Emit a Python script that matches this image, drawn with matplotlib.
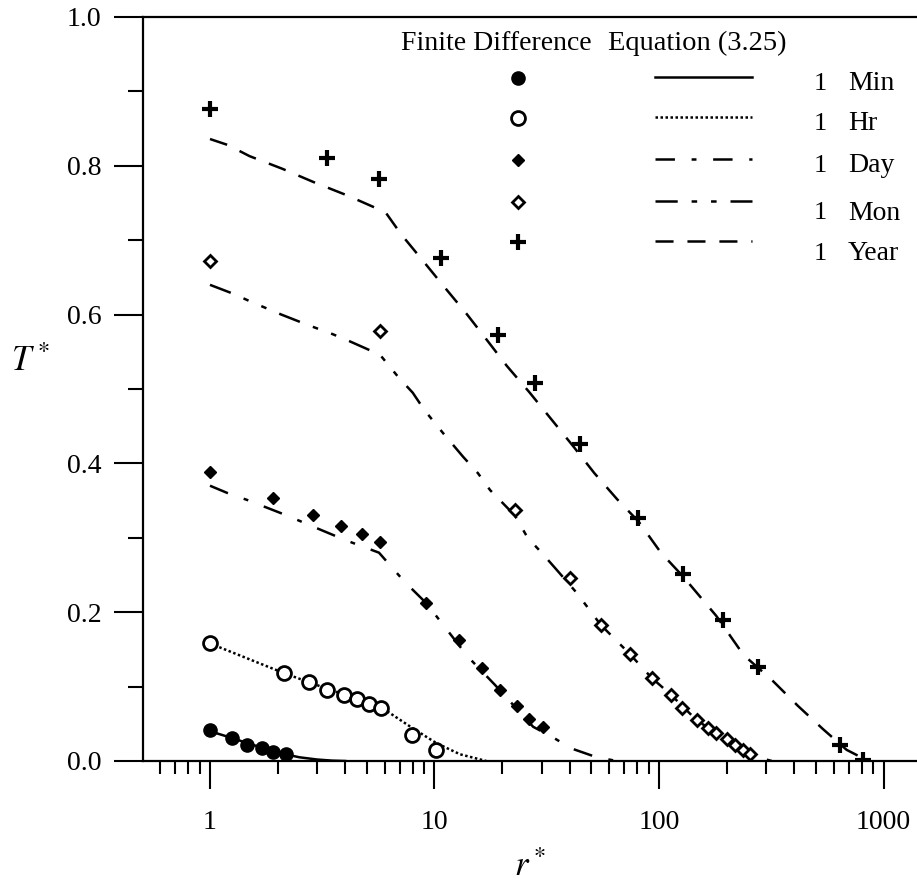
import matplotlib
matplotlib.use('Agg')
import matplotlib.pyplot as plt
from matplotlib.ticker import FixedLocator, NullFormatter

plt.rcParams['font.family'] = ['Liberation Serif', 'DejaVu Serif']
plt.rcParams['mathtext.fontset'] = 'stix'
plt.rcParams['lines.scale_dashes'] = False

# finite difference results (markers)
min_r = [1.0, 1.25, 1.46, 1.70, 1.91, 2.17]
min_T = [0.041, 0.031, 0.022, 0.017, 0.012, 0.010]

hr_r = [1.0, 2.14, 2.76, 3.33, 3.95, 4.53, 5.12, 5.78, 7.96, 10.2]
hr_T = [0.159, 0.118, 0.106, 0.095, 0.089, 0.083, 0.077, 0.071, 0.035, 0.015]

day_r = [1.0, 1.9, 2.87, 3.82, 4.74, 5.72, 9.2, 12.9, 16.2, 19.6, 23.2, 26.4, 30.5]
day_T = [0.389, 0.353, 0.331, 0.316, 0.305, 0.294, 0.213, 0.163, 0.125, 0.095,
         0.074, 0.057, 0.046]

mon_r = [1.0, 5.72, 22.8, 40, 55, 74, 92.6, 113, 127, 147, 165, 180, 200, 218, 237, 254]
mon_T = [0.672, 0.578, 0.337, 0.246, 0.183, 0.144, 0.112, 0.089, 0.071, 0.055,
         0.044, 0.037, 0.029, 0.022, 0.015, 0.009]

year_r = [1.0, 3.31, 5.68, 10.65, 19.2, 28, 44.4, 81, 128, 193, 277, 640, 812]
year_T = [0.876, 0.810, 0.782, 0.676, 0.573, 0.508, 0.426, 0.326, 0.252, 0.190,
          0.127, 0.022, 0.002]

# Equation (3.25) curves
min_eq_r = [1.0, 1.25, 1.5, 1.75, 2.0, 2.25, 2.5, 3.0, 3.5, 4.0]
min_eq_T = [0.040, 0.031, 0.023, 0.017, 0.012, 0.008, 0.005, 0.002, 0.0005, 0.0]

hr_eq_r = [1.0, 2.14, 3.33, 4.5, 5.8, 8.0, 10.2, 13.0, 17.0]
hr_eq_T = [0.158, 0.118, 0.097, 0.084, 0.072, 0.044, 0.024, 0.009, 0.0]

day_eq_r = [1.0, 1.2, 1.46, 2.2, 2.88, 4.0, 5.66, 7.3, 9.2, 14.1, 18.5, 27.5,
            33.6, 40.6, 52.8, 65]
day_eq_T = [0.370, 0.360, 0.351, 0.330, 0.315, 0.297, 0.280, 0.242, 0.212, 0.140,
            0.103, 0.046, 0.032, 0.017, 0.005, 0.0]

mon_eq_r = [1.0, 1.27, 1.53, 2.08, 2.73, 3.5, 4.2, 5.72, 6.9, 8.0, 9.0, 10.9, 13.4,
            15.6, 17.7, 22.8, 26, 30, 35, 43, 55, 74, 92.6, 113, 147, 200, 254, 318]
mon_eq_T = [0.640, 0.628, 0.617, 0.600, 0.586, 0.574, 0.564, 0.546, 0.516, 0.495,
            0.472, 0.441, 0.409, 0.387, 0.364, 0.330, 0.300, 0.280, 0.257, 0.226,
            0.183, 0.144, 0.112, 0.089, 0.055, 0.028, 0.008, 0.0]

year_eq_r = [1.0, 1.2, 1.5, 2.1, 2.9, 4.1, 5.6, 6.1, 7.1, 8.9, 11, 13.9, 17, 21,
             26.4, 33, 41.5, 51.5, 65, 81, 102, 128, 180, 238, 318, 416, 537, 685, 856]
year_eq_T = [0.836, 0.828, 0.813, 0.796, 0.778, 0.760, 0.742, 0.736, 0.708, 0.672,
             0.638, 0.601, 0.567, 0.531, 0.496, 0.460, 0.423, 0.387, 0.352, 0.322,
             0.280, 0.248, 0.195, 0.1425, 0.109, 0.074, 0.043, 0.015, 0.0]

labels = ['Min', 'Hr', 'Day', 'Mon', 'Year']
x_ticks = [1, 10, 100, 1000]
x_tick_labels = ['1', '10', '100', '1000']
y_ticks = [0.0, 0.2, 0.4, 0.6, 0.8, 1.0]

LW = 1.8
line_styles = [
    dict(linestyle='-'),
    dict(dashes=(1.8, 1.8)),
    dict(dashes=(14, 12, 3.5, 12)),
    dict(dashes=(16, 10, 4, 10, 4, 10)),
    dict(dashes=(13, 10)),
]
marker_styles = [
    dict(marker='o', ms=9.5, mfc='black', mec='black', mew=1),
    dict(marker='o', ms=10, mfc='white', mec='black', mew=2),
    dict(marker='D', ms=6.5, mfc='black', mec='black', mew=1),
    dict(marker='D', ms=6, mfc='white', mec='black', mew=2),
    dict(marker='+', ms=11, mec='black', mew=3),
]

fig = plt.figure(figsize=(9.17, 8.83), dpi=100)
W, H = 917, 883
left, right, top, bottom = 143, 917, 17, 761
ax = fig.add_axes([left / W, (H - bottom) / H, (right - left) / W, (bottom - top) / H])

curves = [(min_eq_r, min_eq_T), (hr_eq_r, hr_eq_T), (day_eq_r, day_eq_T),
          (mon_eq_r, mon_eq_T), (year_eq_r, year_eq_T)]
points = [(min_r, min_T), (hr_r, hr_T), (day_r, day_T), (mon_r, mon_T), (year_r, year_T)]

for (cr, ct), ls in zip(curves, line_styles):
    ax.plot(cr, ct, color='black', lw=LW, **ls)
for (pr, pt), ms in zip(points, marker_styles):
    ax.plot(pr, pt, linestyle='none', zorder=3, **ms)

ax.set_xscale('log')
ax.set_xlim(0.503, 1410)
ax.set_ylim(0, 1.0)

ax.xaxis.set_major_locator(FixedLocator(x_ticks))
ax.set_xticklabels(x_tick_labels)
minor_x = [m * d for d in (0.1, 1, 10, 100) for m in range(2, 10) if 0.55 < m * d < 1400]
ax.xaxis.set_minor_locator(FixedLocator(minor_x))
ax.xaxis.set_minor_formatter(NullFormatter())
ax.set_yticks(y_ticks)
ax.set_yticklabels([f'{v:.1f}' for v in y_ticks])
ax.yaxis.set_minor_locator(FixedLocator([0.1, 0.3, 0.5, 0.7, 0.9]))

ax.tick_params(axis='x', which='major', direction='out', length=20, width=1.5,
               labelsize=20, pad=15)
ax.tick_params(axis='x', which='minor', direction='out', length=9, width=1.5)
ax.tick_params(axis='y', which='major', direction='out', length=21, width=1.5,
               labelsize=20, pad=9)
ax.tick_params(axis='y', which='minor', direction='out', length=11, width=1.5)

for side in ('left', 'bottom', 'top'):
    ax.spines[side].set_linewidth(1.6)
ax.spines['right'].set_visible(False)

ax.set_xlabel(r'$r^*$', fontsize=25, labelpad=12)
ax.set_ylabel(r'$T^*$', fontsize=25, rotation=0, va='center', ha='center')
ax.yaxis.set_label_coords(-0.145, 0.535)


def ax_frac(px, py):
    return (px - left) / (right - left), (bottom - py) / (bottom - top)


# hand-made key
ax.text(*ax_frac(401, 43), 'Finite Difference', transform=ax.transAxes,
        fontsize=20, va='center', ha='left')
ax.text(*ax_frac(608, 43), 'Equation (3.25)', transform=ax.transAxes,
        fontsize=20.5, va='center', ha='left')
row_y = [78, 118, 160, 202, 242]
label_y = [84, 124, 166, 213, 254]
for i, lab in enumerate(labels):
    mx, my = ax_frac(518, row_y[i])
    ax.plot([mx], [my], transform=ax.transAxes, linestyle='none',
            clip_on=False, **marker_styles[i])
    x0, y0 = ax_frac(655, row_y[i] - 1)
    x1, _ = ax_frac(752, row_y[i])
    ax.plot([x0, x1], [y0, y0], transform=ax.transAxes, color='black', lw=LW,
            clip_on=False, **line_styles[i])
    ax.text(*ax_frac(820, label_y[i]), '1', transform=ax.transAxes,
            fontsize=19, va='center', ha='center')
    ax.text(*ax_frac(848, label_y[i]), lab, transform=ax.transAxes,
            fontsize=20, va='center', ha='left')

plt.savefig('out.png', dpi=100)
